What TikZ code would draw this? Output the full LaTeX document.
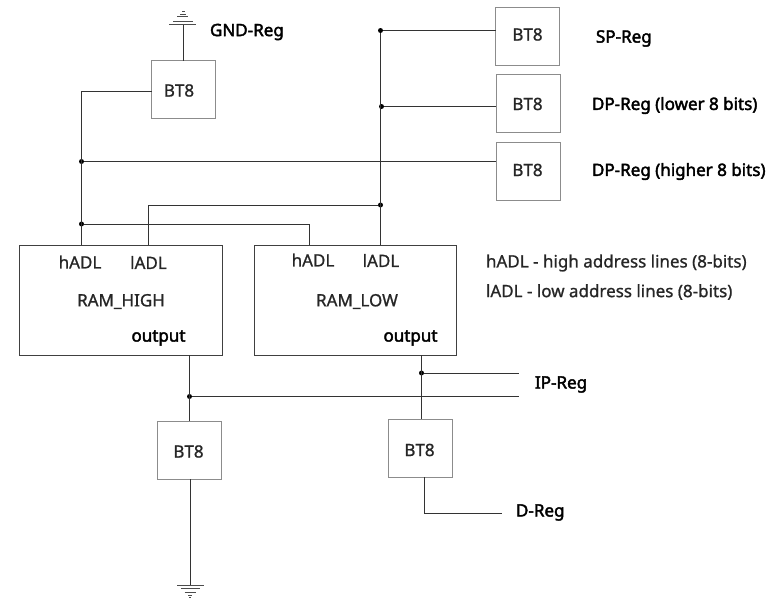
\documentclass[tikz,border=0pt]{standalone}
\usepackage{fontspec}
\setmainfont{Noto Sans}
\newfontfamily\semi[FakeBold=1]{Noto Sans}
\newfontfamily\boldish[FakeBold=2.4]{Noto Sans}
\tikzset{
 x=1pt,y=-1pt,
 btbox/.style={draw=black!45,line width=0.8pt,minimum width=64pt,minimum height=58pt,inner sep=0pt,outer sep=0pt},
 rambox/.style={draw=black!75,line width=0.9pt,inner sep=0pt,outer sep=0pt},
 wire/.style={draw=black!80,line width=0.9pt},
 txt/.style={inner sep=0pt,outer sep=0pt,text=black!85,font=\semi\fontsize{17}{19}\selectfont},
 keytxt/.style={txt,anchor=west},
 btxt/.style={inner sep=0pt,outer sep=0pt,text=black,font=\boldish\fontsize{17}{19}\selectfont,anchor=west},
 dot/.style={circle,fill=black,inner sep=0pt,outer sep=0pt,minimum size=5pt},
 gndbar/.style={draw=black!70,line width=0.9pt},
}
\begin{document}
\begin{tikzpicture}
\useasboundingbox (0,0) rectangle (777,606);
% boxes
\node[btbox] (gndbt) at (183.5,89.5) {};
\node[btbox] (sp) at (527.5,36.5) {};
\node[btbox] (dpl) at (528,103.5) {};
\node[btbox] (dph) at (528,171) {};
\node[btbox] (bth) at (189,450) {};
\node[btbox] (btl) at (420,448) {};
\node[rambox,minimum width=203pt,minimum height=110pt] (ramh) at (121,300) {};
\node[rambox,minimum width=202pt,minimum height=110pt] (raml) at (355,300) {};
% texts
\node[txt] (t1) at (179,90.5) {BT8};
\node[txt] (t2) at (527.5,34.5) {BT8};
\node[txt] (t3) at (527.5,104) {BT8};
\node[txt] (t4) at (527.5,170) {BT8};
\node[txt] (t5) at (188.5,451.5) {BT8};
\node[txt] (t6) at (419.5,450) {BT8};
\node[txt] (a1) at (80,262) {hADL};
\node[txt] (a2) at (148.5,262.5) {lADL};
\node[txt] (a3) at (313,260) {hADL};
\node[txt] (a4) at (381,260.5) {lADL};
\node[txt] (r1) at (121,301.5) {RAM\_HIGH};
\node[txt] (r2) at (357,301.5) {RAM\_LOW};
\node[btxt] (o1) at (131.5,338) {output};
\node[btxt] (o2) at (383.5,338) {output};
\node[btxt] (l1) at (210,32) {GND-Reg};
\node[btxt] (l2) at (596,38.5) {SP-Reg};
\node[btxt] (l3) at (592,105.5) {DP-Reg (lower 8 bits)};
\node[btxt] (l4) at (592,171.5) {DP-Reg (higher 8 bits)};
\node[btxt] (l5) at (535,384.5) {IP-Reg};
\node[btxt] (l6) at (516,512.5) {D-Reg};
\node[keytxt] (k1) at (486,263) {hADL - high address lines (8-bits)};
\node[keytxt] (k2) at (486,292) {lADL - low address lines (8-bits)};
% ports and junctions
\coordinate (gt) at (183.5,24);
\coordinate (gb) at (190,585);
\node[dot] (j1) at (81.5,161.5) {};
\node[dot] (j2) at (81.5,224) {};
\node[dot] (j3) at (380.5,205) {};
\node[dot] (j4) at (380.5,30.5) {};
\node[dot] (j5) at (381.5,106.5) {};
\node[dot] (j6) at (189.5,396.5) {};
\node[dot] (j7) at (421.5,373) {};
\coordinate (ip1) at (519,373);
\coordinate (ip2) at (519,396.5);
\coordinate (dr) at (502,513);
% wires
\path[wire] (gndbt.north) -- (gt);
\path[wire] (gndbt.west |- 0,91) -- (81,91) -- (81,244.5);
\path[wire] (j1) -- (dph.west |- j1);
\path[wire] (j2) -- (309,224) -- (309,245);
\path[wire] (148,245) -- (148,205) -- (j3);
\path[wire] (j4) -- (380.5,245);
\path[wire] (j4) -- (sp.west |- j4);
\path[wire] (j5) -- (dpl.west |- j5);
\path[wire] (189,355) -- (bth.north);
\path[wire] (j6) -- (ip2);
\path[wire] (421.5,355) -- (421.5,419);
\path[wire] (j7) -- (ip1);
\path[wire] (gb |- bth.south) -- (gb);
\path[wire] (424.5,477) -- (424.5,513) -- (dr);
% grounds
\path[gndbar] (169,24) -- (196,24) (173,21.5) -- (193,21.5)
 (177,16.5) -- (188,16.5) (180,14) -- (186,14) (182,11.5) -- (185,11.5);
\path[gndbar] (177,585) -- (204,585) (181,588.5) -- (200,588.5)
 (184.5,592) -- (196,592) (188,595) -- (192,595) (189,597.5) -- (191,597.5);
\end{tikzpicture}
\end{document}
